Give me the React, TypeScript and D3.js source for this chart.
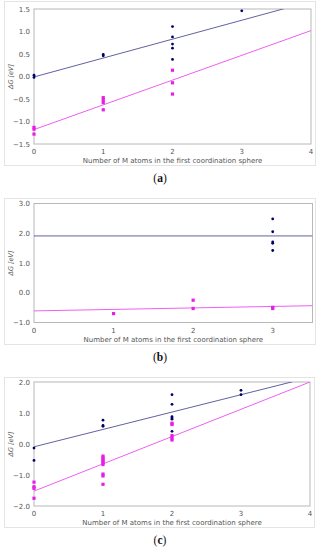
import React from 'react';
import { scaleLinear, range, format } from 'd3';

type Pt = [number, number];

// panel (a)
const navyA: Pt[] = [[0, 0.03], [0, -0.02], [1, 0.49], [1, 0.46], [2, 1.11], [2, 0.88], [2, 0.72], [2, 0.63], [2, 0.38], [3, 1.46]];
const pinkA: Pt[] = [[0, -1.13], [0, -1.17], [0, -1.28], [1, -0.47], [1, -0.52], [1, -0.58], [1, -0.74], [2, 0.14], [2, -0.14], [2, -0.39]];
const fitNavyA: Pt = [0.42, -0.01]; // slope, intercept
const fitPinkA: Pt = [0.55, -1.18];

// panel (b)
const navyB: Pt[] = [[3, 2.48], [3, 2.05], [3, 1.71], [3, 1.66], [3, 1.42]];
const pinkB: Pt[] = [[1, -0.7], [2, -0.25], [2, -0.53], [3, -0.49], [3, -0.53]];
const fitNavyB: Pt = [0, 1.91];
const fitPinkB: Pt = [0.05, -0.61];

// panel (c)
const navyC: Pt[] = [[0, -0.13], [0, -0.53], [1, 0.77], [1, 0.6], [1, 0.57], [2, 1.59], [2, 1.28], [2, 0.88], [2, 0.84], [2, 0.8], [2, 0.41], [3, 1.73], [3, 1.59]];
const pinkC: Pt[] = [[0, -1.23], [0, -1.38], [0, -1.43], [0, -1.75], [1, -0.39], [1, -0.45], [1, -0.5], [1, -0.55], [1, -0.6], [1, -0.66], [1, -0.97], [1, -1.03], [1, -1.3], [2, 0.67], [2, 0.63], [2, 0.27], [2, 0.2], [2, 0.13]];
const fitNavyC: Pt = [0.56, -0.09];
const fitPinkC: Pt = [0.88, -1.52];

const xTitle = 'Number of M atoms in the first coordination sphere';
const yTitle = 'ΔG [eV]';

const NAVY = '#000066';
const NAVY_LINE = '#6262a0';
const PINK = '#e61ee6';
const PINK_LINE = '#f060f0';
const FONT = 'DejaVu Sans, sans-serif';

interface PanelProps {
  label: string;
  frame: { x: number; y: number; w: number; h: number };
  plot: { left: number; top: number; right: number; bottom: number };
  xDomain: [number, number];
  yDomain: [number, number];
  yStep: number;
  navy: Pt[];
  pink: Pt[];
  fitNavy: Pt;
  fitPink: Pt;
  labelY: number;
}

function Panel(p: PanelProps) {
  const x = scaleLinear().domain(p.xDomain).range([p.plot.left, p.plot.right]);
  const y = scaleLinear().domain(p.yDomain).range([p.plot.bottom, p.plot.top]);
  const xTicks = range(Math.ceil(p.xDomain[0]), Math.floor(p.xDomain[1]) + 1);
  const yTicks = range(p.yDomain[0], p.yDomain[1] + p.yStep / 2, p.yStep);
  const fmt = format('.1f');
  const clipId = `clip-${p.label}`;
  const fitLine = (f: Pt, color: string) => (
    <line
      x1={x(p.xDomain[0])}
      y1={y(f[1] + f[0] * p.xDomain[0])}
      x2={x(p.xDomain[1])}
      y2={y(f[1] + f[0] * p.xDomain[1])}
      stroke={color}
      strokeWidth={1}
      clipPath={`url(#${clipId})`}
    />
  );
  const midY = (p.plot.top + p.plot.bottom) / 2;
  return (
    <g>
      <defs>
        <clipPath id={clipId}>
          <rect x={p.plot.left} y={p.plot.top} width={p.plot.right - p.plot.left} height={p.plot.bottom - p.plot.top} />
        </clipPath>
      </defs>
      <rect x={p.frame.x + 0.5} y={p.frame.y + 0.5} width={p.frame.w} height={p.frame.h} fill="#fff" stroke="#e4e4e4" />
      <rect
        x={p.plot.left}
        y={p.plot.top}
        width={p.plot.right - p.plot.left}
        height={p.plot.bottom - p.plot.top}
        fill="#fff"
        stroke="#b8b8b8"
        strokeWidth={1}
      />
      {yTicks.map(t => (
        <text key={t} x={p.plot.left - 4} y={y(t) + 2.5} textAnchor="end" fontSize={7} fill="#555" fontFamily={FONT}>
          {fmt(t)}
        </text>
      ))}
      {xTicks.map(t => (
        <text key={t} x={x(t)} y={p.plot.bottom + 10} textAnchor="middle" fontSize={7} fill="#555" fontFamily={FONT}>
          {t}
        </text>
      ))}
      <text x={(p.plot.left + p.plot.right) / 2} y={p.plot.bottom + 19} textAnchor="middle" fontSize={7} fill="#555" fontFamily={FONT}>
        {xTitle}
      </text>
      <text
        transform={`translate(13,${midY}) rotate(-90)`}
        textAnchor="middle"
        fontSize={6.5}
        fill="#555"
        fontStyle="italic"
        fontFamily={FONT}
      >
        {yTitle}
      </text>
      {fitLine(p.fitNavy, NAVY_LINE)}
      {fitLine(p.fitPink, PINK_LINE)}
      {p.pink.map((d, i) => (
        <rect key={`p${i}`} x={x(d[0]) - 1.6} y={y(d[1]) - 1.6} width={3.2} height={3.2} fill={PINK} />
      ))}
      {p.navy.map((d, i) => (
        <circle key={`n${i}`} cx={x(d[0])} cy={y(d[1])} r={1.4} fill={NAVY} />
      ))}
      <text x={160} y={p.labelY + 4} textAnchor="middle" fontSize={11.5} fontFamily="Liberation Serif, serif" fill="#111">
        (<tspan fontWeight="bold">{p.label}</tspan>)
      </text>
    </g>
  );
}

export default function App() {
  return (
    <svg
      width={319}
      height={550}
      viewBox="0 0 319 550"
      style={{ position: 'fixed', left: 0, top: 0, display: 'block', background: '#fff' }}
    >
      <Panel
        label="a"
        frame={{ x: 4, y: 1, w: 311, h: 164 }}
        plot={{ left: 34, top: 9, right: 311, bottom: 144 }}
        xDomain={[0, 4]}
        yDomain={[-1.5, 1.5]}
        yStep={0.5}
        navy={navyA}
        pink={pinkA}
        fitNavy={fitNavyA}
        fitPink={fitPinkA}
        labelY={178}
      />
      <Panel
        label="b"
        frame={{ x: 4, y: 198, w: 311, h: 146 }}
        plot={{ left: 34, top: 203.5, right: 312.5, bottom: 322.5 }}
        xDomain={[0, 3.5]}
        yDomain={[-1, 3]}
        yStep={1}
        navy={navyB}
        pink={pinkB}
        fitNavy={fitNavyB}
        fitPink={fitPinkB}
        labelY={357}
      />
      <Panel
        label="c"
        frame={{ x: 4, y: 377, w: 310, h: 150 }}
        plot={{ left: 34, top: 382, right: 310, bottom: 506 }}
        xDomain={[0, 4]}
        yDomain={[-2, 2]}
        yStep={1}
        navy={navyC}
        pink={pinkC}
        fitNavy={fitNavyC}
        fitPink={fitPinkC}
        labelY={540}
      />
    </svg>
  );
}
